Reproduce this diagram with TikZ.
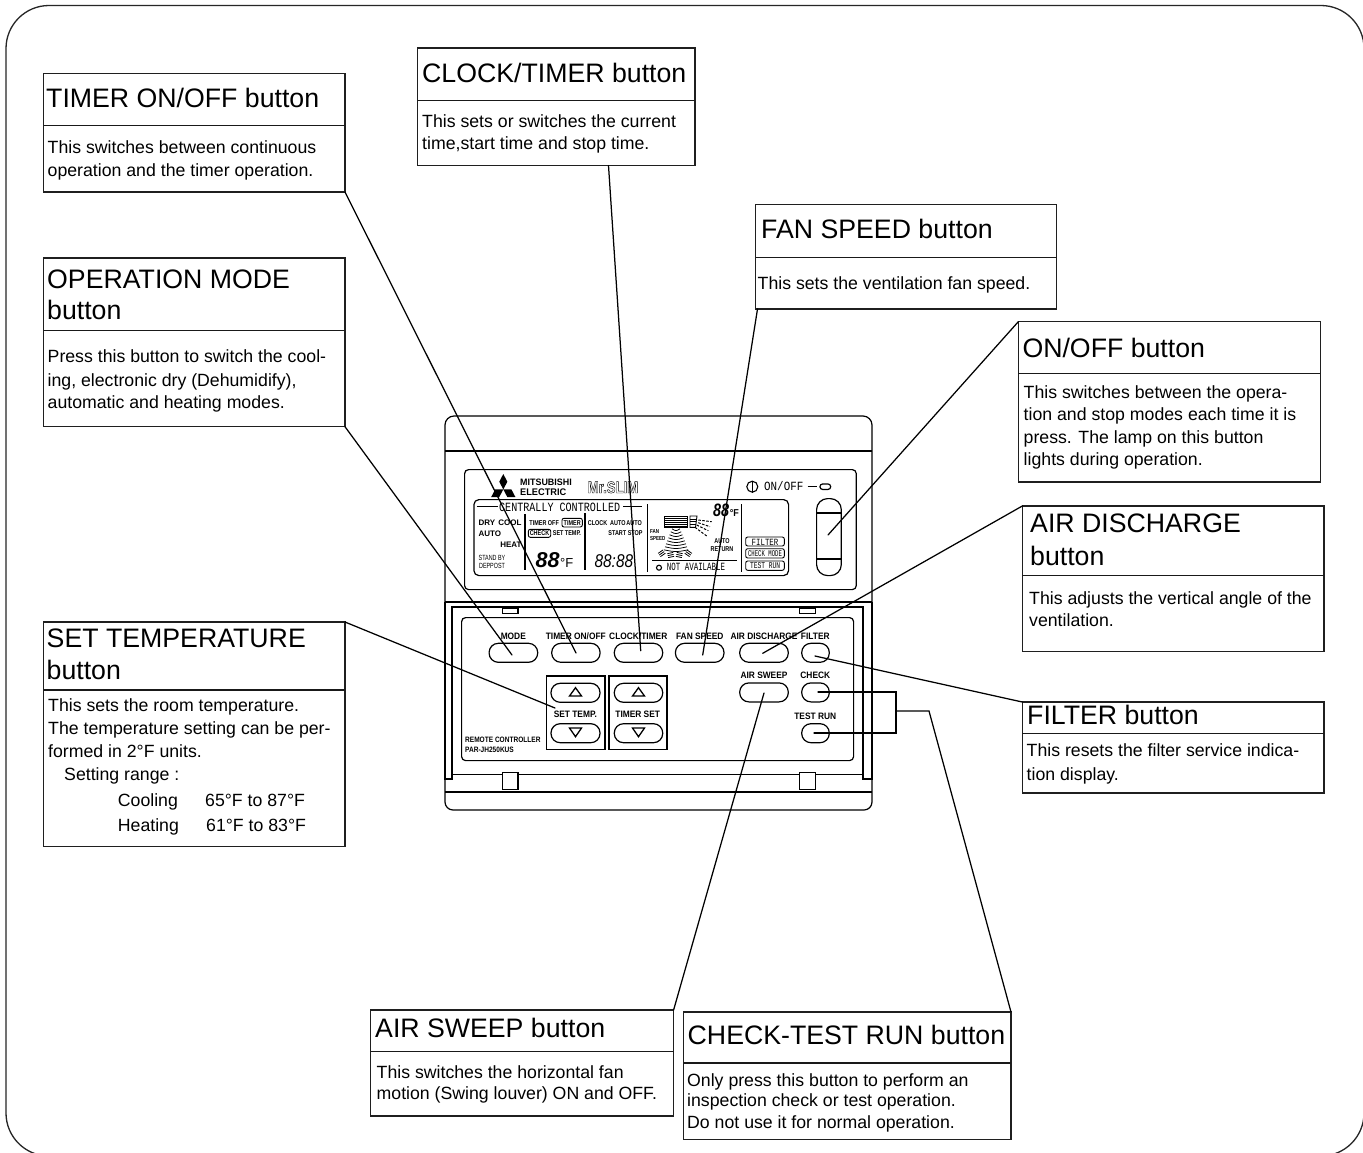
\documentclass[tikz,border=0pt]{standalone}
\usepackage{fontspec}
\setmainfont{Liberation Sans}
\newfontfamily\lcdmono{Liberation Mono}
\newcount\txtcnt
\newcommand\outlined[1]{\special{pdf:code q 1 Tr 0.45 w}#1\special{pdf:code Q}}
\tikzset{
  x=1pt,y=-1pt,
  ink/.style={line width=1.05pt,draw=black!88},
  callout/.style={ink,rectangle,anchor=north west,inner sep=0pt,outer sep=0pt,fill=white},
  headrule/.style={line width=1.5pt,draw=black!90},
  leader/.style={line width=1.25pt,draw=black,line cap=round,line join=miter},
  titletxt/.style={anchor=base west,inner sep=0pt,font=\fontsize{26.7}{30}\selectfont},
  bodytxt/.style={anchor=base west,inner sep=0pt,font=\fontsize{17.7}{22}\selectfont},
  pill/.style={draw=black,line width=1.2pt,rectangle,rounded corners=9.2pt,inner sep=0pt,outer sep=0pt,minimum height=19pt},
  casing/.style={line width=1.2pt,draw=black},
  panelbox/.style={draw=black,line width=1.5pt,rectangle,inner sep=0pt,outer sep=0pt,anchor=north west},
  keytxt/.style={anchor=base,inner sep=0pt,xscale=.9,font=\fontsize{9.3}{10}\selectfont\bfseries},
  lcdbold/.style={inner sep=0pt,font=\fontsize{8}{9}\selectfont\bfseries},
  lcdsmall/.style={inner sep=0pt,xscale=.78,font=\fontsize{7}{8}\selectfont\bfseries},
  tag/.style={draw=black,line width=.9pt,rectangle,rounded corners=2pt,inner sep=0pt,outer sep=0pt},
}
\newcommand\titleline[3]{\global\advance\txtcnt by 1 \node[titletxt] (ttl\the\txtcnt) at (#1,#2) {#3};}
\newcommand\bodyline[3]{\global\advance\txtcnt by 1 \node[bodytxt] (bdy\the\txtcnt) at (#1,#2) {#3};}
\newcommand\lcdtxt[4]{\global\advance\txtcnt by 1 \node[#1] (lcd\the\txtcnt) at (#2,#3) {#4};}
\begin{document}
\begin{tikzpicture}
\useasboundingbox (0,0) rectangle (1363,1152);
\fill[white] (0,0) rectangle (1363,1152);
% outer frame
\begin{scope}
\clip (0,0) rectangle (1363,1152);
\draw[line width=1.3pt,black!85,rounded corners=43pt] (6,5.5) rectangle (1364,1156);
\end{scope}

% ---------- controller casing
\draw[casing,rounded corners=9pt] (445,602) -- (445,416) -- (872,416) -- (872,602);
\draw[casing] (445,451) -- (872,451);
\draw[casing,line width=1.4pt] (445,602) -- (872,602);
\draw[casing] (445,602) -- (445,779) -- (452,779) -- (452,607) -- (863,607) -- (863,779) -- (872,779) -- (872,602);
\draw[casing,line width=1.4pt] (452,774.5) -- (863,774.5);
\draw[casing,rounded corners=8pt] (445,779) -- (445,810) -- (872,810) -- (872,779);
\draw[casing,line width=1.4pt] (445,792) -- (872,792);
\node[casing,draw,rectangle,anchor=north west,minimum width=15.6pt,minimum height=17pt,inner sep=0pt,fill=white] (clipL) at (501.7,772) {};
\node[casing,draw,rectangle,anchor=north west,minimum width=15.6pt,minimum height=17pt,inner sep=0pt,fill=white] (clipR) at (799,772) {};
\node[casing,draw,rectangle,anchor=north west,minimum width=15.6pt,minimum height=5.5pt,inner sep=0pt] (tabL) at (501.7,607.5) {};
\node[casing,draw,rectangle,anchor=north west,minimum width=15.6pt,minimum height=5.5pt,inner sep=0pt] (tabR) at (799,607.5) {};
% bezel and LCD
\node[casing,draw,rectangle,rounded corners=4pt,anchor=north west,minimum width=391.7pt,minimum height=120pt,inner sep=0pt] (bezel) at (464,469) {};
\node[casing,draw,rectangle,rounded corners=5pt,anchor=north west,minimum width=314.7pt,minimum height=76pt,inner sep=0pt] (lcd) at (473.3,499) {};
% key panel
\node[casing,draw,rectangle,rounded corners=4pt,anchor=north west,minimum width=392pt,minimum height=143pt,inner sep=0pt] (keypanel) at (461,617) {};

% logo
\fill[black] (503.3,489.4) -- ++(-4.05,-7.7) -- ++(4.05,-7.7) -- ++(4.05,7.7) -- cycle;
\fill[black] (503.3,489.4) -- ++(8.1,0) -- ++(4.05,7.7) -- ++(-8.1,0) -- cycle;
\fill[black] (503.3,489.4) -- ++(-8.1,0) -- ++(-4.05,7.7) -- ++(8.1,0) -- cycle;
\lcdtxt{anchor=base west,inner sep=0pt,font=\fontsize{9.3}{10}\selectfont\bfseries,xscale=.96}{520}{485}{MITSUBISHI}
\lcdtxt{anchor=base west,inner sep=0pt,font=\fontsize{9.6}{10}\selectfont\bfseries,xscale=.96}{520}{495.7}{ELECTRIC}
\lcdtxt{anchor=base west,inner sep=0pt,font=\fontsize{16.5}{17}\selectfont\bfseries,xscale=.8}{587.5}{493}{\outlined{Mr.SLIM}}
% ON/OFF symbol
\node[draw=black,line width=1.1pt,circle,minimum size=11pt,inner sep=0pt] (pwr) at (752.3,486.7) {};
\draw[line width=1.1pt] (pwr.north) -- (pwr.south);
\lcdtxt{anchor=base west,inner sep=0pt,font=\fontsize{12.5}{13}\selectfont\lcdmono,xscale=.87}{764}{490.5}{ON/OFF}
\draw[line width=1.3pt] (807.7,486.7) -- (816.7,486.7);
\node[draw=black,line width=1.2pt,rectangle,rounded corners=2.6pt,minimum width=10.7pt,minimum height=5.4pt,inner sep=0pt] (lamp) at (825.3,486.7) {};
% ON/OFF key
\node[draw=black,line width=1.2pt,rectangle,rounded corners=11pt,anchor=north west,minimum width=24.7pt,minimum height=77pt,inner sep=0pt] (btnOnOff) at (816,498) {};
\draw[line width=1.1pt] (btnOnOff.west |- 0,513) -- (btnOnOff.east |- 0,513);
\draw[line width=1.1pt] (btnOnOff.west |- 0,559) -- (btnOnOff.east |- 0,559);

% LCD content
\lcdtxt{anchor=base west,inner sep=0pt,xscale=.8,font=\fontsize{12.6}{13}\selectfont\lcdmono}{499}{511}{CENTRALLY CONTROLLED}
\draw[line width=.9pt] (476.7,506.7) -- (498,506.7) (623,506.7) -- (642,506.7);
\draw[line width=1.1pt] (525,514) -- (525,570) (585,513) -- (585,570) (647.3,504) -- (647.3,572.3) (741.7,504) -- (741.7,572.3);
\draw[line width=.9pt] (652,560.7) -- (736.7,560.7);
\lcdtxt{lcdbold,anchor=base west}{478.3}{525}{DRY}
\lcdtxt{lcdbold,anchor=base east}{521.7}{525}{COOL}
\lcdtxt{lcdbold,anchor=base west}{478.3}{536}{AUTO}
\lcdtxt{lcdbold,anchor=base east}{521.7}{547}{HEAT}
\lcdtxt{anchor=base,inner sep=0pt,font=\fontsize{7.5}{8}\selectfont,xscale=.72}{492}{560}{STAND BY}
\lcdtxt{anchor=base,inner sep=0pt,font=\fontsize{7.5}{8}\selectfont,xscale=.72}{492}{568.7}{DEPPOST}
\lcdtxt{lcdsmall,anchor=base west}{529.3}{525}{TIMER OFF}
\node[tag,minimum width=20.3pt,minimum height=8.7pt,anchor=north west] (tagTimer) at (562,518.3) {};
\lcdtxt{lcdsmall,anchor=base}{572.2}{525.3}{TIMER}
\node[tag,minimum width=22.4pt,minimum height=8pt,anchor=north west] (tagCheck) at (528.3,529.3) {};
\lcdtxt{lcdsmall,anchor=base}{539.5}{535.8}{CHECK}
\lcdtxt{lcdsmall,anchor=base west}{552.7}{535.3}{SET TEMP.}
\lcdtxt{anchor=base west,inner sep=0pt,font=\fontsize{21.5}{22}\selectfont\bfseries\itshape}{535.5}{567.3}{88}
\lcdtxt{anchor=base west,inner sep=0pt,font=\fontsize{13}{14}\selectfont}{560}{567.3}{°F}
\lcdtxt{lcdsmall,anchor=base west}{587.7}{525}{CLOCK}
\lcdtxt{lcdsmall,anchor=base west}{610}{525}{AUTO}
\lcdtxt{lcdsmall,anchor=base east}{642}{525}{AUTO}
\lcdtxt{lcdsmall,anchor=base west}{608.3}{535.3}{START}
\lcdtxt{lcdsmall,anchor=base east}{642.7}{535.3}{STOP}
\lcdtxt{anchor=base west,inner sep=0pt,font=\fontsize{18.5}{19}\selectfont\itshape,xscale=.83}{594.5}{567.3}{88:88}
\lcdtxt{anchor=base west,inner sep=0pt,xscale=.78,font=\fontsize{5.8}{6}\selectfont\bfseries}{650}{533.3}{FAN}
\lcdtxt{anchor=base west,inner sep=0pt,xscale=.78,font=\fontsize{5.8}{6}\selectfont\bfseries}{650}{540.6}{SPEED}
\lcdtxt{anchor=base west,inner sep=0pt,xscale=.8,font=\fontsize{18}{19}\selectfont\bfseries\itshape}{713}{516}{88}
\lcdtxt{anchor=base west,inner sep=0pt,xscale=.9,font=\fontsize{10}{11}\selectfont\bfseries}{729.6}{516}{°F}
% vane icon
\draw[line width=.9pt] (664.3,516) rectangle (687.3,527.3);
\foreach \yy in {518,520,522,524,526} \draw[line width=.8pt] (664.3,\yy) -- (687.3,\yy);
\draw[line width=.9pt] (690,516) -- (697,516) -- (695.5,527.3) -- (690,527.3) -- cycle;
\foreach \yy in {519,521.5,524} \draw[line width=.7pt] (690,\yy) -- (696.3,\yy);
\draw[line width=1pt,dash pattern=on 2.5pt off 1.5pt] (698.3,520) -- (711.7,521.7) (698.3,522.7) -- (710,526.7) (696.7,525) -- (708.3,530.7) (695,527.3) -- (706.7,536);
% fan arcs
\foreach \yy/\ww in {530/4,533/5.2,536/6.4,539/7.6,542/8.8,545/10,548/11,551/12.2}
  \draw[line width=.75pt] (676-\ww,\yy-1.2) .. controls (676,\yy+1.2) .. (676+\ww,\yy-1.2);
\foreach \cx/\cy/\rr in {661.7/553.3/35,670.7/555/12,679.3/555/-12,688.3/553.3/-35}
  \foreach \dy in {-2,0,2}
    \draw[line width=.8pt,rotate around={\rr:(\cx,\cy)}] (\cx-3,\cy+\dy) -- (\cx+3,\cy+\dy);
\lcdtxt{lcdsmall,anchor=base}{722}{543.7}{AUTO}
\lcdtxt{lcdsmall,anchor=base}{722}{551.3}{RETURN}
\node[draw=black,line width=1.1pt,circle,minimum size=5pt,inner sep=0pt] (naDot) at (659,567.7) {};
\lcdtxt{anchor=base west,inner sep=0pt,xscale=.68,font=\fontsize{11}{12}\selectfont\lcdmono}{666.7}{570.7}{NOT AVAILABLE}
\node[tag,minimum width=38.6pt,minimum height=9pt,anchor=north west] (tagFilter) at (745.7,537) {};
\lcdtxt{anchor=base,inner sep=0pt,font=\fontsize{9.5}{10}\selectfont\lcdmono,xscale=.78}{765}{545}{FILTER}
\node[tag,minimum width=38.6pt,minimum height=9.3pt,anchor=north west] (tagMode) at (745.7,548.7) {};
\lcdtxt{anchor=base,inner sep=0pt,font=\fontsize{8.8}{9}\selectfont\lcdmono,xscale=.64}{765}{556.4}{CHECK MODE}
\node[tag,minimum width=38.6pt,minimum height=9.3pt,anchor=north west] (tagTest) at (745.7,561) {};
\lcdtxt{anchor=base,inner sep=0pt,font=\fontsize{8.8}{9}\selectfont\lcdmono,xscale=.71}{765}{568.7}{TEST RUN}

% keys
\node[pill,minimum width=48.6pt] (btnMode) at (513.4,652.8) {};
\node[pill,minimum width=48.4pt] (btnTimer) at (575.9,652.8) {};
\node[pill,minimum width=48.4pt] (btnClock) at (638.5,652.8) {};
\node[pill,minimum width=48.6pt] (btnFan) at (699.7,652.8) {};
\node[pill,minimum width=48.6pt] (btnDis) at (764,652.8) {};
\node[pill,minimum width=27.6pt] (btnFilter) at (815.5,652.8) {};
\node[pill,minimum width=48.6pt] (btnSweep) at (764,692.4) {};
\node[pill,minimum width=27.6pt] (btnCheck) at (815.5,692.4) {};
\node[pill,minimum width=27.6pt] (btnTest) at (815.5,733.2) {};
\node[panelbox,minimum width=58.3pt,minimum height=73.3pt] (boxTemp) at (546.7,676) {};
\node[panelbox,minimum width=58pt,minimum height=73.3pt] (boxSet) at (609,676) {};
\node[pill,minimum width=49pt] (btnTempUp) at (575.5,692.8) {};
\node[pill,minimum width=49pt] (btnTempDn) at (575.5,733.2) {};
\node[pill,minimum width=48.4pt] (btnSetUp) at (638.5,692.8) {};
\node[pill,minimum width=48.4pt] (btnSetDn) at (638.5,733.2) {};
\foreach \cx in {575.5,638.5}{
  \draw[line width=1.3pt,line join=miter] (\cx-6,696) -- (\cx+6,696) -- (\cx,687.7) -- cycle;
  \draw[line width=1.3pt,line join=miter] (\cx-6,728) -- (\cx+6,728) -- (\cx,736.7) -- cycle;
}
\lcdtxt{keytxt}{513.3}{639}{MODE}
\lcdtxt{keytxt}{575.8}{639}{TIMER ON/OFF}
\lcdtxt{keytxt}{638.3}{639}{CLOCK/TIMER}
\lcdtxt{keytxt}{699.8}{639}{FAN SPEED}
\lcdtxt{keytxt}{764}{639}{AIR DISCHARGE}
\lcdtxt{keytxt}{815.3}{639}{FILTER}
\lcdtxt{keytxt}{764}{678}{AIR SWEEP}
\lcdtxt{keytxt}{815.3}{678}{CHECK}
\lcdtxt{keytxt}{815.3}{719.3}{TEST RUN}
\lcdtxt{keytxt}{575.3}{717}{SET TEMP.}
\lcdtxt{keytxt}{637.7}{717}{TIMER SET}
\lcdtxt{anchor=base west,inner sep=0pt,xscale=.84,font=\fontsize{7.8}{9}\selectfont\bfseries}{465}{742.7}{REMOTE CONTROLLER}
\lcdtxt{anchor=base west,inner sep=0pt,xscale=.84,font=\fontsize{7.8}{9}\selectfont\bfseries}{465}{752.7}{PAR-JH250KUS}

% connector end points
\coordinate (endMode) at (512,655);
\coordinate (endTimer) at (576,653);
\coordinate (endClock) at (640.7,650.7);
\coordinate (endFan) at (702.7,655);
\coordinate (endOnOff) at (828,535);
\coordinate (endDis) at (762.7,653.3);
\coordinate (endFilter) at (815,656);
\coordinate (endTemp) at (555,708);
\coordinate (endSweep) at (764,693);
\coordinate (endCheck) at (818,692);
\coordinate (endTest) at (814,733);
\coordinate (busTop) at (896,692);
\coordinate (busBot) at (896,733);
\coordinate (busMid) at (896,711);
\coordinate (busOut) at (929,711);

% call-out boxes
\node[callout,minimum width=301.5pt,minimum height=118.5pt] (cTimer) at (43.5,73.5) {};
\draw[headrule] (43.5,125.7) -- (345,125.7);
\titleline{46}{107.2}{TIMER ON/OFF button}
\bodyline{47.5}{153.3}{This switches between continuous}
\bodyline{47.5}{176}{operation and the timer operation.}

\node[callout,minimum width=301.5pt,minimum height=168.7pt] (cMode) at (43.5,258) {};
\draw[headrule,line width=1.1pt] (43.5,330.7) -- (345,330.7);
\titleline{47}{288.3}{OPERATION MODE}
\titleline{47}{319.3}{button}
\bodyline{47.5}{362.7}{Press this button to switch the cool-}
\bodyline{47.5}{386}{ing, electronic dry (Dehumidify),}
\bodyline{47.5}{408.3}{automatic and heating modes.}

\node[callout,minimum width=301.5pt,minimum height=224.5pt] (cTemp) at (43.5,622) {};
\draw[headrule] (43.5,690) -- (345,690);
\titleline{46.5}{647.3}{SET TEMPERATURE}
\titleline{46.5}{679.3}{button}
\bodyline{48}{711}{This sets the room temperature.}
\bodyline{48}{734}{The temperature setting can be per-}
\bodyline{48}{757.3}{formed in 2°F units.}
\bodyline{64}{780.7}{Setting range :}
\bodyline{117.7}{806.7}{Cooling}
\bodyline{205}{806.7}{65°F to 87°F}
\bodyline{117.7}{831}{Heating}
\bodyline{206}{831}{61°F to 83°F}

\node[callout,minimum width=277.5pt,minimum height=117.6pt] (cClock) at (417.5,48) {};
\draw[headrule] (417.5,100.7) -- (695,100.7);
\titleline{422}{82.2}{CLOCK/TIMER button}
\bodyline{422}{127.3}{This sets or switches the current}
\bodyline{422}{149}{time,start time and stop time.}

\node[callout,minimum width=301pt,minimum height=104.5pt] (cFan) at (755.5,204.5) {};
\draw[headrule] (755.5,257.5) -- (1056.5,257.5);
\titleline{761}{238.3}{FAN SPEED button}
\bodyline{757.5}{289}{This sets the ventilation fan speed.}

\node[callout,minimum width=302pt,minimum height=160.3pt] (cOnOff) at (1018.3,321.7) {};
\draw[headrule] (1018.3,373.5) -- (1320.3,373.5);
\titleline{1022.3}{357.2}{ON/OFF button}
\bodyline{1023.5}{398.3}{This switches between the opera-}
\bodyline{1023.5}{420}{tion and stop modes each time it is}
\bodyline{1023.5}{443.3}{press.  The lamp on this button}
\bodyline{1023.5}{465}{lights during operation.}

\node[callout,minimum width=301.7pt,minimum height=145.7pt] (cDis) at (1022.3,506) {};
\draw[headrule] (1022.3,575.7) -- (1324,575.7);
\titleline{1030}{532.7}{AIR DISCHARGE}
\titleline{1030}{565}{button}
\bodyline{1029}{604}{This adjusts the vertical angle of the}
\bodyline{1029}{626}{ventilation.}

\node[callout,minimum width=301.7pt,minimum height=91pt] (cFilter) at (1022.3,702) {};
\draw[headrule] (1022.3,733.3) -- (1324,733.3);
\titleline{1027}{724.8}{FILTER button}
\bodyline{1026.5}{756.7}{This resets the filter service indica-}
\bodyline{1026.5}{780}{tion display.}

\node[callout,minimum width=303pt,minimum height=106pt] (cSweep) at (370.6,1010) {};
\draw[headrule] (370.6,1051.7) -- (673.6,1051.7);
\titleline{375}{1037.8}{AIR SWEEP button}
\bodyline{376.5}{1078.3}{This switches the horizontal fan}
\bodyline{376.5}{1099.3}{motion (Swing louver) ON and OFF.}

\node[callout,minimum width=327.5pt,minimum height=127.5pt] (cCheck) at (683.5,1012) {};
\draw[headrule] (683.5,1063) -- (1011,1063);
\titleline{687.5}{1044.8}{CHECK-TEST RUN button}
\bodyline{687}{1086.7}{Only press this button to perform an}
\bodyline{687}{1106.7}{inspection check or test operation.}
\bodyline{687}{1128.3}{Do not use it for normal operation.}

% connectors
\draw[leader] (cTimer.south east) -- (endTimer);
\draw[leader] (cMode.south east) -- (endMode);
\draw[leader] (cTemp.north east) -- (endTemp);
\draw[leader] (cClock.south west) ++(191,0) -- (endClock);
\draw[leader] (cFan.south west) ++(2,0) -- (endFan);
\draw[leader] (cOnOff.north west) -- (endOnOff);
\draw[leader] (cDis.north west) -- (endDis);
\draw[leader] (cFilter.north west) -- (endFilter);
\draw[leader] (cSweep.north east) -- (endSweep);
\draw[leader] (endCheck) -- (busTop) -- (busBot) -- (endTest);
\draw[leader] (busMid) -- (busOut) -- (cCheck.north east);
\end{tikzpicture}
\end{document}
